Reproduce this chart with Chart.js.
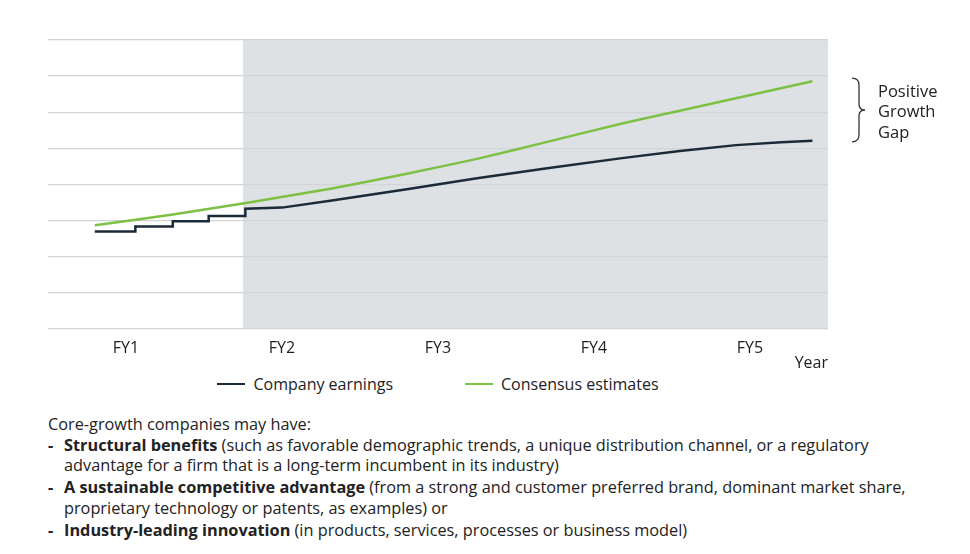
<!DOCTYPE html>
<html>
<head>
<meta charset="utf-8">
<script src="https://cdn.jsdelivr.net/npm/chart.js@4"></script>
<style>
  body { margin: 0; background: #fff; font-family: "Open Sans", sans-serif; color: #222; }
  #wrap { position: absolute; left: 0; top: 0; width: 970px; height: 373px; }
  #legend { position: absolute; left: 48px; top: 374px; width: 780px; height: 20px; display: flex; justify-content: center; align-items: center; font-size: 16px; line-height: 20px; color: #222; }
  #legend .item { display: flex; align-items: center; }
  #legend .item + .item { margin-left: 72px; }
  #legend .swatch { display: inline-block; width: 28px; height: 2.5px; margin-right: 8px; }
  #notes { position: absolute; left: 48px; top: 414px; font-size: 16.3px; line-height: 20.3px; color: #222; white-space: nowrap; }
  #notes ul { list-style: none; margin: 0; padding: 0; }
  #notes li { position: relative; padding-left: 16px; margin-top: 2px; }
  #notes li:first-child { margin-top: 0.5px; }
  #notes li::before { content: "-"; position: absolute; left: 0; font-weight: 700; }
</style>
</head>
<body>
<div id="wrap"><canvas id="chart"></canvas></div>
<div id="legend"></div>
<div id="notes">
  Core-growth companies may have:
  <ul>
    <li><b>Structural benefits</b> (such as favorable demographic trends, a unique distribution channel, or a regulatory<br>advantage for a firm that is a long-term incumbent in its industry)</li>
    <li><b>A sustainable competitive advantage</b> (from a strong and customer preferred brand, dominant market share,<br>proprietary technology or patents, as examples) or</li>
    <li><b>Industry-leading innovation</b> (in products, services, processes or business model)</li>
  </ul>
</div>
<script>
// tick positions and labels on the x axis
const fyTicks = [1, 2, 3, 4, 5];
const tickLabels = ["FY1", "FY2", "FY3", "FY4", "FY5"];

// company earnings: quarterly steps in FY1, then a smooth path
const earningsX = [0.8, 1.06, 1.06, 1.30, 1.30, 1.53, 1.53, 1.765, 1.765, 2.0, 2.32, 2.8, 3.25, 3.7, 4.18, 4.55, 4.91, 5.2, 5.40];
const earningsY = [2.70, 2.70, 2.84, 2.84, 2.98, 2.98, 3.13, 3.13, 3.33, 3.36, 3.56, 3.87, 4.17, 4.45, 4.73, 4.93, 5.09, 5.17, 5.21];

// consensus estimates
const consensusX = [0.8, 1.3, 1.77, 2.32, 2.8, 3.25, 3.7, 4.18, 4.55, 4.91, 5.40];
const consensusY = [2.87, 3.17, 3.49, 3.89, 4.30, 4.71, 5.18, 5.69, 6.04, 6.39, 6.86];

// where the shaded (forecast) part begins
const forecastStart = 1.75;
const gapLabel = ["Positive", "Growth", "Gap"];

const toPoints = (xs, ys) => xs.map((x, i) => ({ x: x, y: ys[i] }));

// grey background for the forecast years, under the grid lines
const shadePlugin = {
  id: "shade",
  beforeDraw(chart) {
    const { ctx, chartArea, scales } = chart;
    const x0 = scales.x.getPixelForValue(forecastStart);
    ctx.save();
    ctx.fillStyle = "#dde1e4";
    ctx.fillRect(x0, chartArea.top, chartArea.right - x0, chartArea.bottom - chartArea.top);
    ctx.restore();
  }
};

// brace between the two line ends + label
const bracePlugin = {
  id: "brace",
  afterDraw(chart) {
    const { ctx, chartArea, scales } = chart;
    const y1 = scales.y.getPixelForValue(consensusY[consensusY.length - 1]) - 3;
    const y2 = scales.y.getPixelForValue(earningsY[earningsY.length - 1]) + 1;
    const ym = (y1 + y2) / 2;
    const xl = chartArea.right + 24, xm = xl + 7, xt = xl + 13;
    ctx.save();
    ctx.strokeStyle = "#333";
    ctx.lineWidth = 1.3;
    ctx.beginPath();
    ctx.moveTo(xl, y1);
    ctx.quadraticCurveTo(xm, y1, xm, y1 + 7);
    ctx.lineTo(xm, ym - 6);
    ctx.quadraticCurveTo(xm, ym, xt, ym);
    ctx.quadraticCurveTo(xm, ym, xm, ym + 6);
    ctx.lineTo(xm, y2 - 7);
    ctx.quadraticCurveTo(xm, y2, xl, y2);
    ctx.stroke();
    ctx.fillStyle = "#222";
    ctx.font = '16.5px "Open Sans"';
    ctx.textBaseline = "middle";
    gapLabel.forEach((t, i) => ctx.fillText(t, xl + 26, ym + 2.5 + (i - 1) * 20.5));
    ctx.restore();
  }
};

const chart = new Chart(document.getElementById("chart"), {
  type: "line",
  data: {
    datasets: [
      {
        label: "Company earnings",
        data: toPoints(earningsX, earningsY),
        borderColor: "#1b2a39",
        backgroundColor: "#1b2a39",
        borderWidth: 2.5,
        pointRadius: 0,
        tension: 0,
      },
      {
        label: "Consensus estimates",
        data: toPoints(consensusX, consensusY),
        borderColor: "#7cc143",
        backgroundColor: "#7cc143",
        borderWidth: 2.5,
        pointRadius: 0,
        tension: 0.2,
      },
    ],
  },
  options: {
    responsive: true,
    maintainAspectRatio: false,
    animation: false,
    layout: { padding: { left: 48, right: 142, top: 40, bottom: 0 } },
    plugins: {
      legend: { display: false },
      tooltip: { enabled: false },
    },
    scales: {
      x: {
        type: "linear",
        min: 0.5,
        max: 5.5,
        afterBuildTicks: (scale) => { scale.ticks = fyTicks.map((v) => ({ value: v })); },
        afterFit: (scale) => { scale.height = 44; },
        grid: { display: false, drawTicks: false },
        border: { display: false },
        ticks: {
          padding: 10,
          color: "#1e1e1e",
          font: { family: "Open Sans", size: 16 },
          callback: (v) => tickLabels[fyTicks.indexOf(v)],
          maxRotation: 0,
        },
        title: {
          display: true,
          text: "Year",
          align: "end",
          color: "#1e1e1e",
          font: { family: "Open Sans", size: 16 },
          padding: { top: 0, bottom: 0 },
        },
      },
      y: {
        min: 0,
        max: 8,
        ticks: { display: false, stepSize: 1 },
        grid: { color: "#d2d4d6", lineWidth: 1.3, drawTicks: false },
        border: { display: false },
      },
    },
  },
  plugins: [shadePlugin, bracePlugin],
});

// html legend built from the datasets
const legend = document.getElementById("legend");
chart.data.datasets.forEach((ds) => {
  const item = document.createElement("span");
  item.className = "item";
  const sw = document.createElement("span");
  sw.className = "swatch";
  sw.style.background = ds.borderColor;
  item.appendChild(sw);
  item.appendChild(document.createTextNode(ds.label));
  legend.appendChild(item);
});
</script>
</body>
</html>
